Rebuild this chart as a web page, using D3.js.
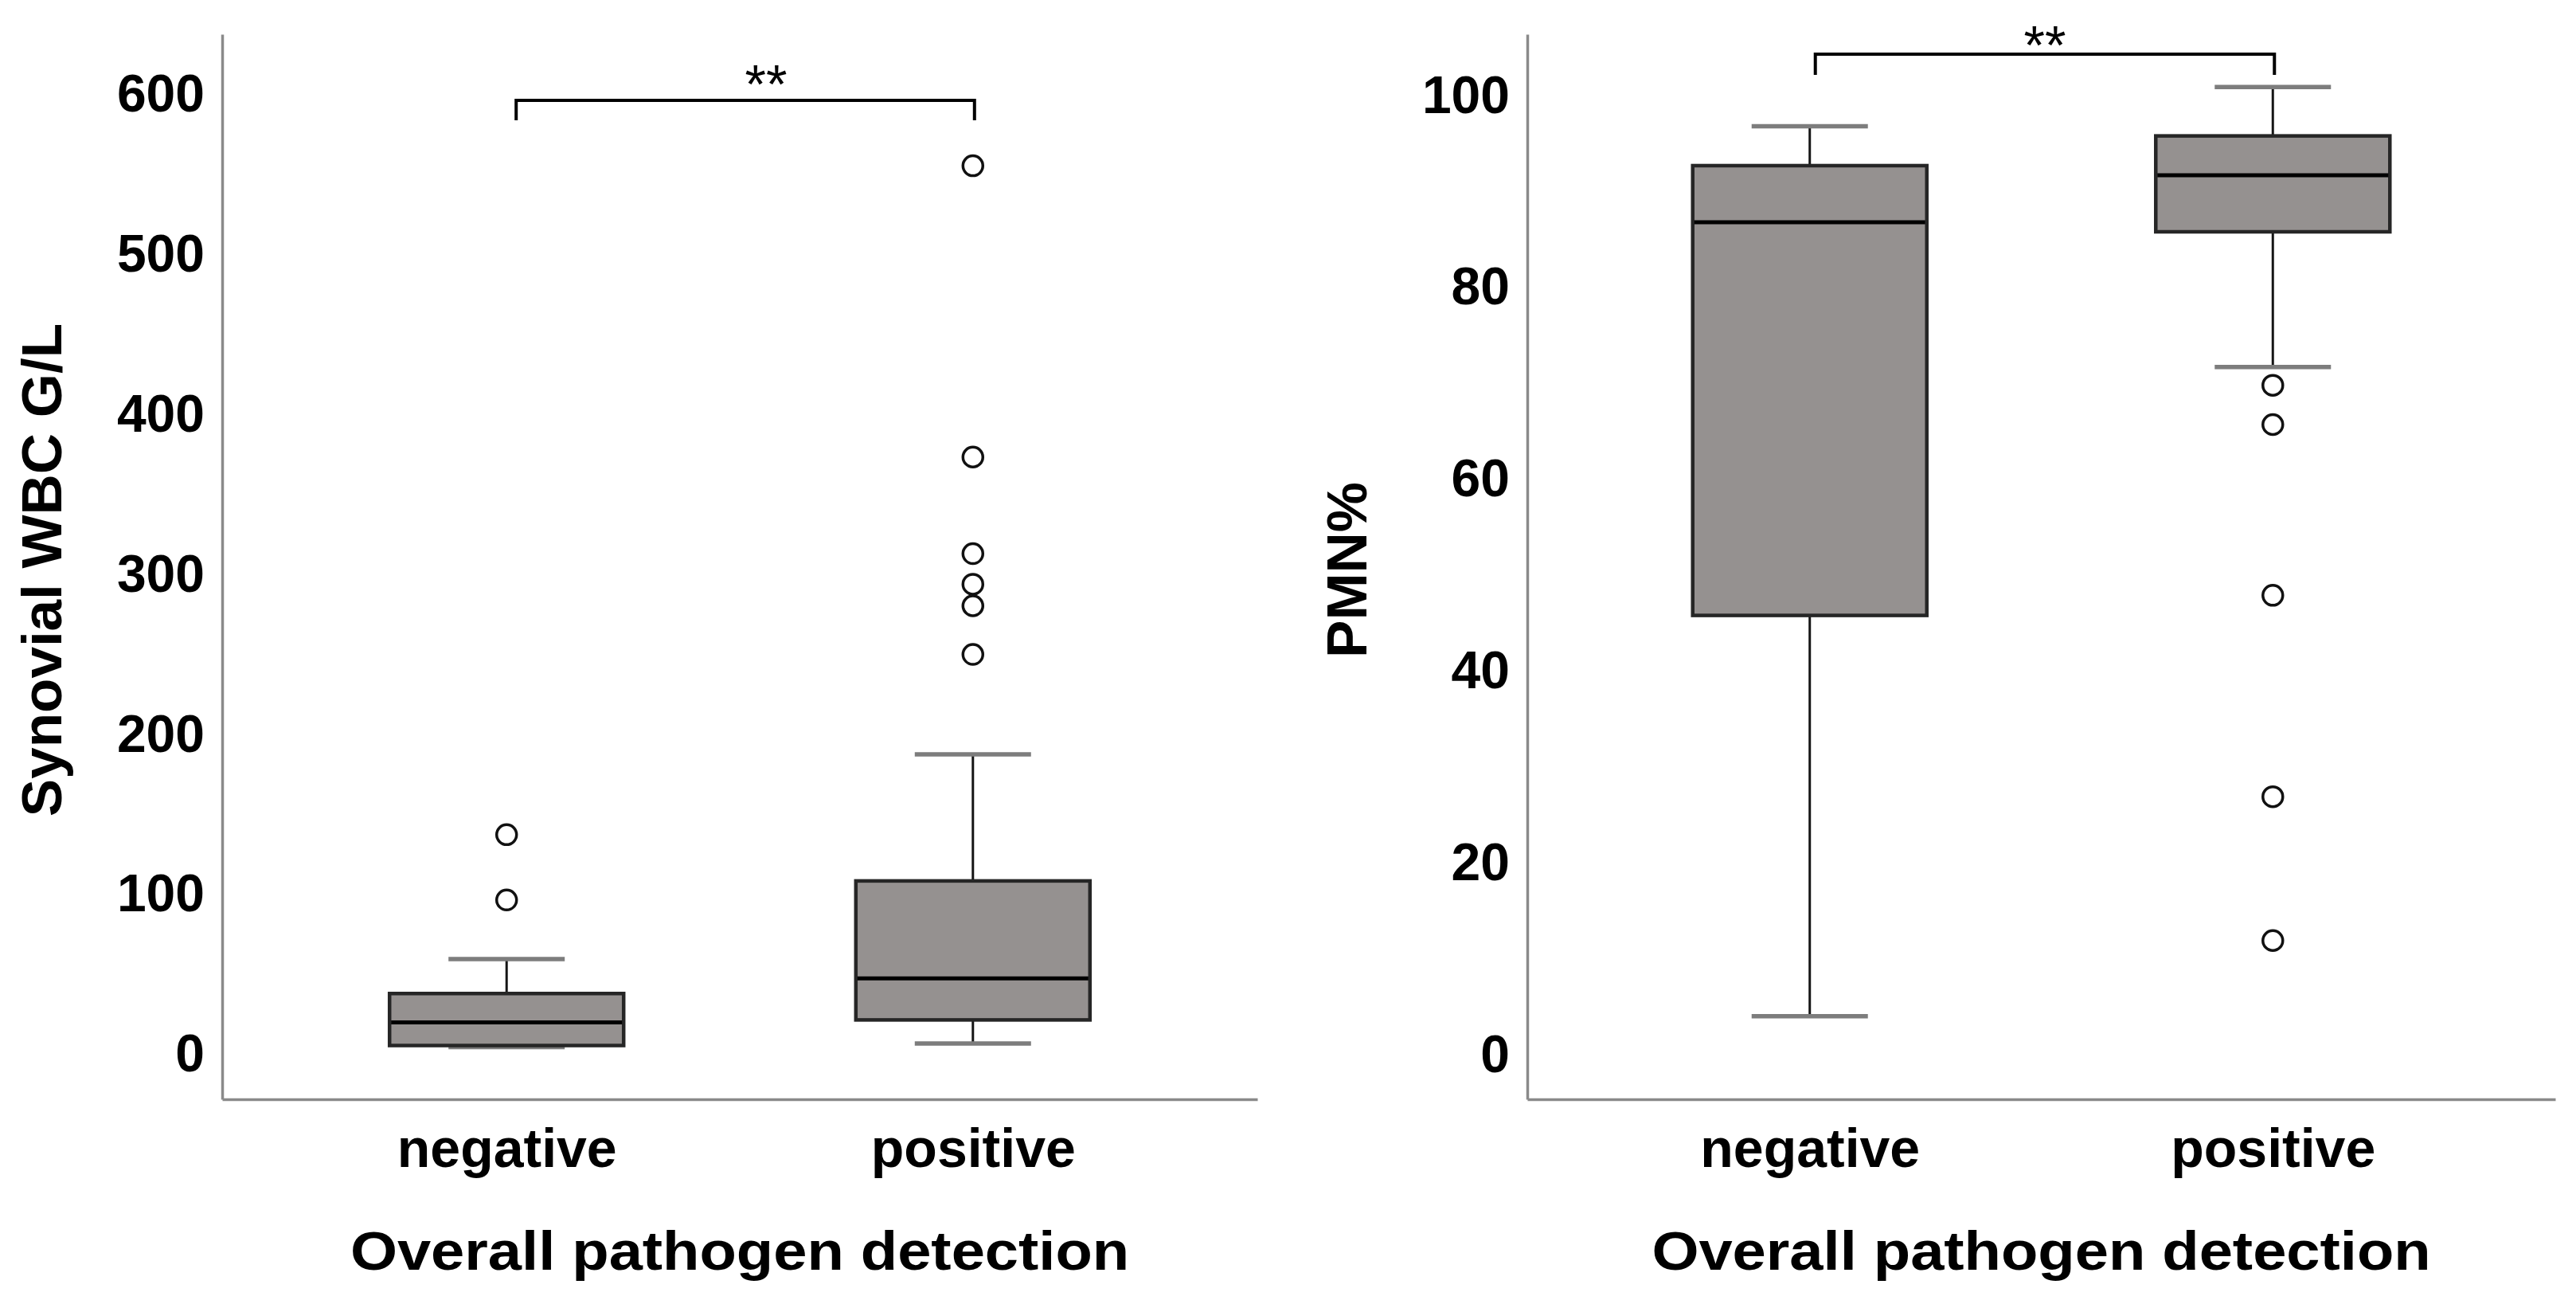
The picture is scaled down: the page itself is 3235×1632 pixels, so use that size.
<!DOCTYPE html>
<html>
<head>
<meta charset="utf-8">
<script src="https://cdn.jsdelivr.net/npm/d3@7"></script>
<style>
  html, body { margin: 0; padding: 0; background: #fff; }
  svg { display: block; }
  text { font-family: "Liberation Sans", Arial, sans-serif; fill: #000; }
</style>
</head>
<body>
<svg id="chart" width="3235" height="1632"></svg>
<script>
// ---------- data ----------
const categories = ["negative", "positive"];

// Panel 1: Synovial WBC G/L
const wbcMin     = [4.5, 6.7];
const wbcQ1      = [5.5, 21.5];
const wbcMedian  = [20, 47.5];
const wbcQ3      = [38, 108.4];
const wbcMax     = [59.5, 187.5];
const wbcOutliers = [[137.3, 96.5], [555.5, 373.4, 313, 293.9, 280.4, 250]];
const wbcTicks   = [0, 100, 200, 300, 400, 500, 600];

// Panel 2: PMN%
const pmnMin     = [4.0, 71.7];
const pmnQ1      = [45.8, 85.8];
const pmnMedian  = [86.8, 91.7];
const pmnQ3      = [92.7, 95.8];
const pmnMax     = [96.8, 100.9];
const pmnOutliers = [[], [69.8, 65.7, 47.9, 26.9, 11.9]];
const pmnTicks   = [0, 20, 40, 60, 80, 100];

const yTitles = ["Synovial WBC G/L", "PMN%"];
const xTitle = "Overall pathogen detection";
const sigLabel = "**";

// ---------- layout ----------
const svg = d3.select("#chart");
const panels = [
  { left: 279, right: 1579, top: 43, bottom: 1380, domain: [-28.1, 637.7],
    min: wbcMin, q1: wbcQ1, med: wbcMedian, q3: wbcQ3, max: wbcMax, out: wbcOutliers,
    ticks: wbcTicks, yTitle: yTitles[0], brTop: 126, brBot: 151, starY: 129, starDx: 26, brDx1: 12 },
  { left: 1918, right: 3209, top: 43, bottom: 1380, domain: [-4.65, 106.4],
    min: pmnMin, q1: pmnQ1, med: pmnMedian, q3: pmnQ3, max: pmnMax, out: pmnOutliers,
    ticks: pmnTicks, yTitle: yTitles[1], brTop: 68, brBot: 94, starY: 80, starDx: 0, brDx1: 7 }
];

const halfBox = 147, halfCap = 73;

panels.forEach(p => {
  const g = svg.append("g");
  const y = d3.scaleLinear().domain(p.domain).range([p.bottom, p.top]);
  const x = d3.scalePoint().domain(categories).range([p.left, p.right]).padding(0.61);

  // y axis
  const ya = g.append("g").attr("transform", `translate(${p.left},0)`)
    .call(d3.axisLeft(y).tickValues(p.ticks).tickSize(0).tickSizeOuter(0).tickPadding(22).tickFormat(d3.format("d")));
  ya.select(".domain").attr("stroke", "#8a8a8a").attr("stroke-width", 3.5);
  ya.selectAll("text").attr("font-size", 66).attr("font-weight", "bold")
    .attr("font-family", "Liberation Sans, Arial, sans-serif").attr("fill", "#000");

  // x axis
  const xa = g.append("g").attr("transform", `translate(0,${p.bottom})`)
    .call(d3.axisBottom(x).tickSize(0).tickSizeOuter(0).tickPadding(37));
  xa.select(".domain").attr("stroke", "#8a8a8a").attr("stroke-width", 3.5);
  xa.selectAll("text").attr("font-size", 68).attr("font-weight", "bold")
    .attr("font-family", "Liberation Sans, Arial, sans-serif").attr("fill", "#000");

  // boxes
  const boxes = categories.map((c, i) => ({
    c, min: p.min[i], q1: p.q1[i], med: p.med[i], q3: p.q3[i], max: p.max[i], out: p.out[i]
  }));

  const bg = g.selectAll("g.box").data(boxes).join("g").attr("class", "box");
  // whiskers
  bg.append("line")
    .attr("x1", d => x(d.c)).attr("x2", d => x(d.c))
    .attr("y1", d => y(d.q3)).attr("y2", d => y(d.max))
    .attr("stroke", "#151515").attr("stroke-width", 3);
  bg.append("line")
    .attr("x1", d => x(d.c)).attr("x2", d => x(d.c))
    .attr("y1", d => y(d.q1)).attr("y2", d => y(d.min))
    .attr("stroke", "#151515").attr("stroke-width", 3);
  // caps
  bg.append("line")
    .attr("x1", d => x(d.c) - halfCap).attr("x2", d => x(d.c) + halfCap)
    .attr("y1", d => y(d.max)).attr("y2", d => y(d.max))
    .attr("stroke", "#7d7d7d").attr("stroke-width", 5.5);
  bg.append("line")
    .attr("x1", d => x(d.c) - halfCap).attr("x2", d => x(d.c) + halfCap)
    .attr("y1", d => y(d.min)).attr("y2", d => y(d.min))
    .attr("stroke", "#7d7d7d").attr("stroke-width", 5.5);
  // box
  bg.append("rect")
    .attr("x", d => x(d.c) - halfBox).attr("width", halfBox * 2)
    .attr("y", d => y(d.q3)).attr("height", d => y(d.q1) - y(d.q3))
    .attr("fill", "#959190").attr("stroke", "#262626").attr("stroke-width", 4.5);
  // median
  bg.append("line")
    .attr("x1", d => x(d.c) - halfBox + 2).attr("x2", d => x(d.c) + halfBox - 2)
    .attr("y1", d => y(d.med)).attr("y2", d => y(d.med))
    .attr("stroke", "#000").attr("stroke-width", 5);
  // outliers
  bg.selectAll("circle").data(d => d.out.map(v => ({ c: d.c, v }))).join("circle")
    .attr("cx", d => x(d.c)).attr("cy", d => y(d.v)).attr("r", 12.5)
    .attr("fill", "#fff").attr("stroke", "#111").attr("stroke-width", 3.5);

  // significance bracket
  const bx1 = x(categories[0]) + p.brDx1, bx2 = x(categories[1]) + 2;
  g.append("path")
    .attr("d", `M${bx1},${p.brBot}L${bx1},${p.brTop}L${bx2},${p.brTop}L${bx2},${p.brBot}`)
    .attr("fill", "none").attr("stroke", "#000").attr("stroke-width", 4);
  g.append("text").attr("x", (bx1 + bx2) / 2 + p.starDx).attr("y", p.starY)
    .attr("text-anchor", "middle").attr("font-size", 68).text(sigLabel);

  // y title
  g.append("text")
    .attr("transform", `translate(${p.left - 202},${(p.top + p.bottom) / 2 + 4}) rotate(-90)`)
    .attr("text-anchor", "middle").attr("font-size", 71).attr("font-weight", "bold")
    .text(p.yTitle);

  // x title
  g.append("text")
    .attr("transform", `translate(${(p.left + p.right) / 2},1594) scale(1.1,1)`)
    .attr("text-anchor", "middle").attr("font-size", 69).attr("font-weight", "bold")
    .text(xTitle);
});
</script>
</body>
</html>
